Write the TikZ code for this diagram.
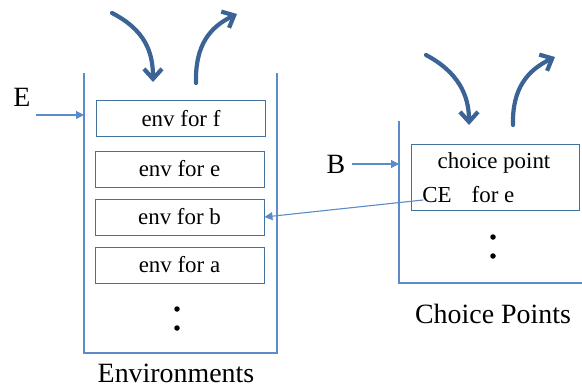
\documentclass[tikz,border=0pt]{standalone}
\usepackage{fontspec}
\setmainfont{Liberation Serif}
\usetikzlibrary{arrows.meta}
\definecolor{boxc}{HTML}{41719C}
\definecolor{linec}{HTML}{5B8BC9}
\definecolor{bigc}{HTML}{3B6395}
\tikzset{
  envbox/.style={draw=boxc, line width=1bp, minimum width=169bp, minimum height=36bp, inner sep=0pt, font=\fontsize{23}{25}\selectfont},
  wall/.style={draw=linec, line width=1.2bp},
  thin/.style={draw=linec, line width=1.1bp, -{Triangle[length=8bp,width=8bp]}},
  big/.style={draw=bigc, line width=4.2bp, line cap=round, -{Straight Barb[length=10bp,width=18bp,line width=4.2bp]}},
  lbl/.style={font=\fontsize{28}{30}\selectfont, inner sep=0pt},
  txt/.style={font=\fontsize{23}{25}\selectfont, inner sep=0pt},
  dot/.style={circle, fill=black, inner sep=0pt, minimum size=5.5bp},
}
\begin{document}
\begin{tikzpicture}[x=1bp,y=-1bp]
\useasboundingbox (0,0) rectangle (582,389);
% left container
\coordinate (L1) at (84,73);
\coordinate (L2) at (84,353);
\coordinate (L3) at (277,353);
\coordinate (L4) at (277,73);
\draw[wall] (L1) -- (L2) -- (L3) -- (L4);
\node[envbox] (envf) at (181,118.5) {env for f};
\node[envbox] (enve) at (179.5,169) {env for e};
\node[envbox] (envb) at (179.5,217) {env for b};
\node[envbox] (enva) at (179.5,265) {env for a};
\node[dot] (dL1) at (177,309) {};
\node[dot] (dL2) at (177,328) {};
\node[lbl] (envlab) at (176,373) {Environments};
\node[lbl] (E) at (22,97) {E};
\coordinate (Estart) at (36,115);
\coordinate (Eend) at (84,115);
\draw[thin] (Estart) -- (Eend);
% left curved arrows
\coordinate (la1) at (112,13);
\coordinate (la2) at (153,82);
\draw[big] (la1) .. controls (145,30) and (153,52) .. (la2);
\coordinate (lb1) at (196,83);
\coordinate (lb2) at (237,14);
\draw[big] (lb1) .. controls (195,45) and (210,27) .. (lb2);
% right container
\coordinate (R1) at (399,121);
\coordinate (R2) at (399,283);
\coordinate (R3) at (582,283);
\draw[wall] (R1) -- (R2) -- (R3);
\node[draw=boxc, line width=1bp, minimum width=168bp, minimum height=66bp, inner sep=0pt] (cpbox) at (495,177) {};
\node[txt] (cptext) at (494,163) {choice point};
\node[txt] (CE) at (437,195) {CE};
\node[txt] (fore) at (493,195) {for e};
\node[dot] (dR1) at (493,237) {};
\node[dot] (dR2) at (493,256) {};
\node[lbl] (cplab) at (493,314) {Choice Points};
\node[lbl] (B) at (336,164) {B};
\coordinate (Bstart) at (352,164);
\coordinate (Bend) at (399,164);
\draw[thin] (Bstart) -- (Bend);
% right curved arrows
\coordinate (ra1) at (426,55);
\coordinate (ra2) at (469,125);
\draw[big] (ra1) .. controls (458,72) and (469,95) .. (ra2);
\coordinate (rb1) at (513,125);
\coordinate (rb2) at (555,57);
\draw[big] (rb1) .. controls (512,88) and (528,70) .. (rb2);
% connector
\draw[thin] ([shift={(1,5)}]CE.west) -- (envb.east);
\end{tikzpicture}
\end{document}
